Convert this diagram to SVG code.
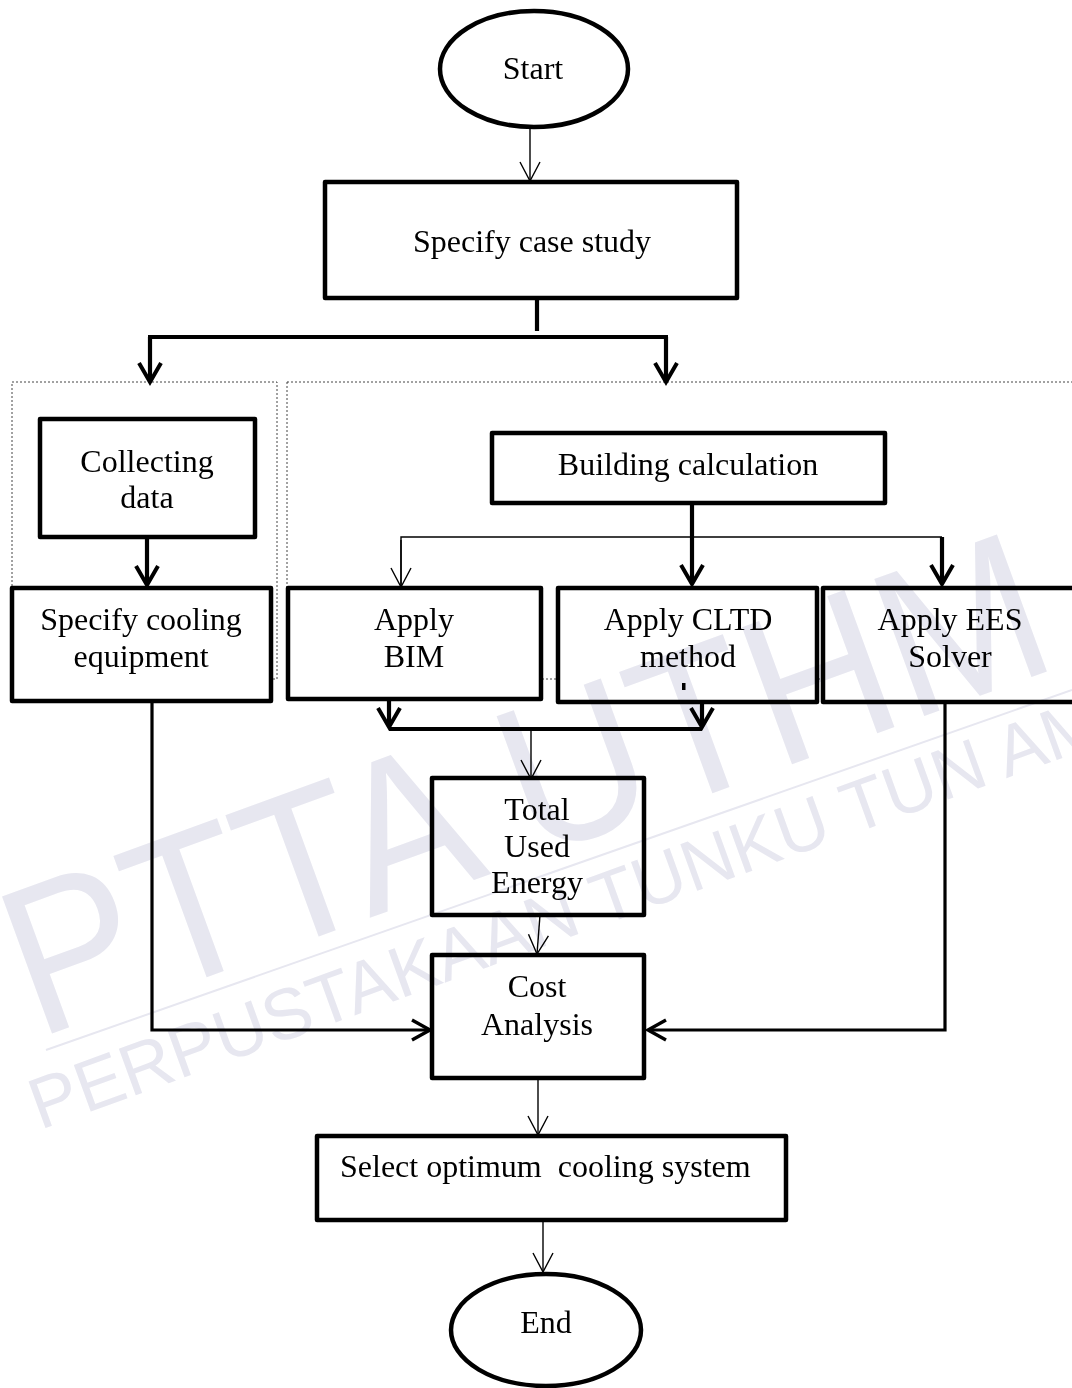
<svg xmlns="http://www.w3.org/2000/svg" width="1072" height="1388" viewBox="0 0 1072 1388">
<style>
.box{fill:#fff;stroke:#000;stroke-width:4.5;stroke-linejoin:round}
.lbl{font-family:"Liberation Serif","Times New Roman",serif;font-size:32px;fill:#000;text-anchor:middle;white-space:pre}
.thin{fill:none;stroke:#000;stroke-width:1.4}
.thick{fill:none;stroke:#000;stroke-width:4.2}
.med{fill:none;stroke:#000;stroke-width:3.2}
.dot{fill:none;stroke:#444;stroke-width:1;stroke-dasharray:2 2}
.wm{font-family:"Liberation Sans",Arial,sans-serif;fill:#e7e7f0}
</style>
<defs>
<marker id="aThin" viewBox="0 0 22 22" markerWidth="22" markerHeight="22" markerUnits="userSpaceOnUse" refX="20" refY="11" orient="auto">
<path d="M1,1 L20,11 L1,21" fill="none" stroke="#000" stroke-width="1.4"/>
</marker>
<marker id="aThick" viewBox="0 0 26 26" markerWidth="26" markerHeight="26" markerUnits="userSpaceOnUse" refX="21" refY="13" orient="auto">
<path d="M2,2 L21,13 L2,24" fill="none" stroke="#000" stroke-width="4"/>
</marker>
<marker id="aMed" viewBox="0 0 24 24" markerWidth="24" markerHeight="24" markerUnits="userSpaceOnUse" refX="20" refY="12" orient="auto">
<path d="M2,2 L20,12 L2,22" fill="none" stroke="#000" stroke-width="3.4"/>
</marker>
</defs>
<rect width="1072" height="1388" fill="#fff"/>
<g id="groups">
<rect class="dot" x="12" y="382" width="265" height="297"/>
<rect class="dot" x="287" y="382" width="800" height="297"/>
</g>
<g id="connectors">
<line class="thin" x1="530" y1="128" x2="530" y2="181" marker-end="url(#aThin)"/>
<line class="thick" x1="537" y1="298" x2="537" y2="331"/>
<line class="thick" x1="148" y1="337" x2="668" y2="337"/>
<line class="thick" x1="150" y1="337" x2="150" y2="382" marker-end="url(#aThick)"/>
<line class="thick" x1="666" y1="337" x2="666" y2="382" marker-end="url(#aThick)"/>
<line class="thick" x1="147" y1="537" x2="147" y2="585" marker-end="url(#aThick)"/>
<line class="thick" x1="692" y1="503" x2="692" y2="584" marker-end="url(#aThick)"/>
<polyline class="thin" points="401,586 401,537 942,537"/>
<line class="thin" x1="401" y1="540" x2="401" y2="587" marker-end="url(#aThin)"/>
<line class="thick" x1="942" y1="537" x2="942" y2="584" marker-end="url(#aThick)"/>
<line class="thick" x1="389" y1="700" x2="389" y2="727" marker-end="url(#aThick)"/>
<line class="thick" x1="702" y1="702" x2="702" y2="727" marker-end="url(#aThick)"/>
<line class="thick" x1="389" y1="729" x2="702" y2="729"/>
<line class="thin" x1="531" y1="729" x2="531" y2="779" marker-end="url(#aThin)"/>
<line class="thin" x1="540" y1="915" x2="537" y2="954" marker-end="url(#aThin)"/>
<path class="med" d="M50,699 H152 V1030 H430" marker-end="url(#aMed)"/>
<path class="med" d="M945,702 V1030 H648" marker-end="url(#aMed)"/>
<line class="thin" x1="538" y1="1078" x2="538" y2="1135" marker-end="url(#aThin)"/>
<line class="thin" x1="543" y1="1220" x2="543" y2="1272" marker-end="url(#aThin)"/>
</g>
<g id="start">
<ellipse class="box" cx="534" cy="69" rx="94" ry="58"/>
<text class="lbl" x="533" y="79">Start</text>
</g>
<g id="specify-case-study">
<rect class="box" x="325" y="182" width="412" height="116"/>
<text class="lbl" x="532" y="252">Specify case study</text>
</g>
<g id="collecting-data">
<rect class="box" x="40" y="419" width="215" height="118"/>
<text class="lbl" x="147" y="472">Collecting</text>
<text class="lbl" x="147" y="508">data</text>
</g>
<g id="specify-cooling">
<rect class="box" x="12" y="588" width="259" height="113"/>
<text class="lbl" x="141" y="630">Specify cooling</text>
<text class="lbl" x="141" y="667">equipment</text>
</g>
<g id="building-calculation">
<rect class="box" x="492" y="433" width="393" height="70"/>
<text class="lbl" x="688" y="475">Building calculation</text>
</g>
<g id="apply-bim">
<rect class="box" x="288" y="588" width="253" height="111"/>
<text class="lbl" x="414" y="630">Apply</text>
<text class="lbl" x="414" y="667">BIM</text>
</g>
<g id="apply-cltd">
<rect class="box" x="558" y="588" width="259" height="114"/>
<text class="lbl" x="688" y="630">Apply CLTD</text>
<text class="lbl" x="688" y="667">method</text>
<rect x="682" y="683" width="3.5" height="7" fill="#000"/>
</g>
<g id="apply-ees">
<rect class="box" x="823" y="588" width="262" height="114"/>
<text class="lbl" x="950" y="630">Apply EES</text>
<text class="lbl" x="950" y="667">Solver</text>
</g>
<g id="total-used-energy">
<rect class="box" x="432" y="778" width="212" height="137"/>
<text class="lbl" x="537" y="820">Total</text>
<text class="lbl" x="537" y="857">Used</text>
<text class="lbl" x="537" y="893">Energy</text>
</g>
<g id="cost-analysis">
<rect class="box" x="432" y="955" width="212" height="123"/>
<text class="lbl" x="537" y="997">Cost</text>
<text class="lbl" x="537" y="1035">Analysis</text>
</g>
<g id="select-optimum">
<rect class="box" x="317" y="1136" width="469" height="84"/>
<text class="lbl" x="340" y="1177" style="text-anchor:start">Select optimum  cooling system</text>
</g>
<g id="end">
<ellipse class="box" cx="546" cy="1330" rx="95" ry="56"/>
<text class="lbl" x="546" y="1333">End</text>
</g>
<g id="watermark" style="mix-blend-mode:multiply">
<text class="wm" font-size="212" transform="translate(37,1039) rotate(-20) scale(0.92,1)" style="white-space:pre">PTTA UTHM</text>
<line x1="46" y1="1050" x2="1072" y2="690" stroke="#e7e7f0" stroke-width="2"/>
<text class="wm" font-size="72" transform="translate(40,1130) rotate(-20)">PERPUSTAKAAN TUNKU TUN AMINAH</text>
</g>
</svg>
